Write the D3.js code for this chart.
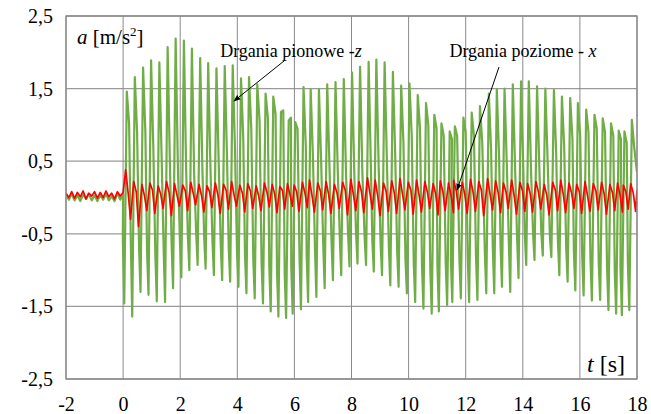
<!DOCTYPE html>
<html><head><meta charset="utf-8">
<script src="https://cdn.jsdelivr.net/npm/d3@7"></script>
<style>body{margin:0;background:#fff}</style>
</head><body><svg id="c" width="651" height="414"></svg>
<script>
// ---- data ----
const xTicks = [-2,0,2,4,6,8,10,12,14,16,18];
const yTicks = [-2.5,-1.5,-0.5,0.5,1.5,2.5];
// before excitation (t from -2 to 0, step 0.1)
const preT = [-2,-1.9,-1.8,-1.7,-1.6,-1.5,-1.4,-1.3,-1.2,-1.1,-1.0,-0.9,-0.8,-0.7,-0.6,-0.5,-0.4,-0.3,-0.2,-0.1,0.0];
const greenPre = [0.04,-0.03,0.05,-0.04,0.03,-0.05,0.04,-0.02,0.05,-0.04,0.03,-0.05,0.04,-0.03,0.05,-0.04,0.02,-0.05,0.06,-0.03,0.05];
const redPre = [0.06,0.00,0.08,-0.01,0.07,0.01,0.09,-0.02,0.06,0.02,0.08,-0.01,0.07,0.00,0.09,0.01,0.06,-0.02,0.08,0.02,0.07];
// vertical vibration - z: per cycle peak time, peak, trough, secondary bump
const peakT = [0.13,0.41,0.70,0.98,1.27,1.56,1.84,2.13,2.41,2.70,2.98,3.27,3.56,3.84,4.13,4.41,4.70,4.99,
  5.26,5.53,5.80,6.03,
  6.32,6.57,6.86,7.15,7.44,7.73,8.02,8.30,8.60,8.87,9.16,9.45,9.74,10.03,10.32,10.61,10.90,11.15,11.44,11.62,
  11.92,12.21,12.50,12.81,13.09,13.36,13.65,13.94,14.21,14.50,14.79,15.09,15.37,15.66,15.93,16.22,16.51,16.80,17.09,17.36,17.56,17.82];
const peakZ = [1.46,1.66,1.79,1.89,1.86,2.07,2.19,2.16,2.05,1.92,1.85,1.78,1.81,1.82,1.64,1.66,1.56,1.43,
  1.39,1.18,1.06,1.04,
  1.52,1.49,1.49,1.56,1.59,1.63,1.72,1.80,1.87,1.90,1.86,1.73,1.54,1.57,1.41,1.30,1.14,1.02,0.91,0.98,
  1.10,1.17,1.26,1.43,1.49,1.50,1.56,1.60,1.60,1.53,1.50,1.48,1.39,1.37,1.30,1.21,1.14,1.09,1.02,0.92,0.91,1.07];
const troughZ = [-1.46,-1.64,-1.30,-1.34,-1.43,-1.44,-1.25,-1.10,-1.00,-0.93,-0.98,-1.07,-1.14,-1.16,-1.23,-1.32,-1.39,-1.46,
  -1.57,-1.64,-1.66,-1.60,
  -1.54,-1.44,-1.37,-1.25,-1.14,-1.07,-0.95,-0.91,-0.93,-1.02,-1.07,-1.21,-1.23,-1.32,-1.44,-1.53,-1.60,-1.57,-1.48,-1.44,
  -1.39,-1.44,-1.41,-1.32,-1.32,-1.23,-1.30,-1.11,-0.93,-0.86,-0.80,-0.82,-1.07,-1.16,-1.28,-1.35,-1.42,-1.41,-1.55,-1.60,-1.62,-1.55];
const secondZ = [1.02,0.90,0.90,0.66,0.55,0.45,0.40,0.35,0.30,0.35,0.40,0.45,0.55,0.65,0.80,0.95,1.05,1.10,
  1.15,1.20,1.10,0.95,
  0.70,0.55,0.45,0.40,0.35,0.30,0.30,0.35,0.40,0.45,0.50,0.60,0.75,0.85,0.95,1.00,0.95,0.85,0.80,0.85,
  0.90,0.85,0.75,0.65,0.55,0.45,0.40,0.35,0.35,0.40,0.50,0.60,0.70,0.80,0.85,0.90,0.95,0.90,0.85,0.80,0.75,0.70];
// secondary dip just before each main trough
const dipZ = [-0.55,-0.60,-0.70,-0.75,-0.80,-0.70,-0.65,-0.60,-0.55,-0.50,-0.55,-0.60,-0.65,-0.70,-0.75,-0.80,-0.85,-0.90,
  -0.95,-1.00,-1.05,-0.95,
  -0.85,-0.80,-0.70,-0.65,-0.60,-0.55,-0.50,-0.50,-0.55,-0.60,-0.65,-0.70,-0.75,-0.85,-0.90,-0.95,-1.00,-0.95,-0.90,-0.85,
  -0.85,-0.80,-0.80,-0.75,-0.70,-0.65,-0.60,-0.55,-0.50,-0.50,-0.50,-0.55,-0.60,-0.70,-0.75,-0.80,-0.85,-0.90,-0.95,-1.00,-0.95,-0.90];
const endT = [18.0], endZ = [0.35], endX = [0.10];
// horizontal vibration - x: per cycle high, middle, low
const redHi = [0.38,0.22,0.18,0.20,0.16,0.22,0.19,0.17,0.21,0.18,0.16,0.20,0.18,0.22,0.17,0.19,0.16,0.20,0.18,0.15,0.19,0.17,
  0.21,0.24,0.20,0.22,0.18,0.21,0.25,0.22,0.27,0.24,0.20,0.23,0.26,0.21,0.24,0.22,0.19,0.23,0.20,0.24,
  0.21,0.25,0.22,0.26,0.23,0.20,0.24,0.21,0.19,0.22,0.18,0.21,0.24,0.20,0.18,0.22,0.19,0.21,0.18,0.20,0.17,0.19];
const redMid = [0.05,0.08,0.02,0.10,0.04,0.07,0.03,0.09,0.05,0.02,0.08,0.04,0.10,0.03,0.06,0.09,0.02,0.07,0.05,0.10,0.03,0.08,
  0.06,0.02,0.09,0.04,0.07,0.10,0.03,0.08,0.05,0.02,0.09,0.06,0.04,0.10,0.03,0.07,0.05,0.08,0.02,0.09,
  0.04,0.07,0.10,0.03,0.06,0.08,0.02,0.09,0.05,0.07,0.03,0.10,0.04,0.06,0.08,0.02,0.09,0.05,0.07,0.03,0.08,0.06];
const redLo = [-0.30,-0.40,-0.18,-0.22,-0.15,-0.25,-0.12,-0.18,-0.10,-0.20,-0.14,-0.22,-0.16,-0.12,-0.20,-0.15,-0.18,-0.13,-0.21,-0.16,-0.12,-0.19,
  -0.14,-0.20,-0.17,-0.22,-0.15,-0.24,-0.18,-0.21,-0.16,-0.25,-0.19,-0.22,-0.17,-0.23,-0.20,-0.15,-0.24,-0.18,-0.21,-0.16,
  -0.22,-0.19,-0.25,-0.17,-0.21,-0.15,-0.23,-0.19,-0.20,-0.16,-0.24,-0.18,-0.21,-0.15,-0.22,-0.19,-0.17,-0.23,-0.18,-0.20,-0.16,-0.19];

// ---- layout ----
const FONT = '"Liberation Serif"';
const W = 651, H = 414;
const m = {l:66, t:16, r:14, b:35};
const svg = d3.select("#c");
const x = d3.scaleLinear().domain([-2,18]).range([m.l, W-m.r]);
const y = d3.scaleLinear().domain([-2.5,2.5]).range([H-m.b, m.t]);
const fmt = v => d3.format(".1f")(v).replace(".", ",").replace("\u2212","-");

// grid
const grid = svg.append("g");
grid.selectAll("line.h").data(yTicks).join("line")
  .attr("x1", x(-2)).attr("x2", x(18)).attr("y1", d=>y(d)).attr("y2", d=>y(d))
  .attr("stroke", "#9a9a9a").attr("stroke-width", 1.3);
grid.selectAll("line.v").data(xTicks).join("line")
  .attr("y1", y(-2.5)).attr("y2", y(2.5)).attr("x1", d=>x(d)).attr("x2", d=>x(d))
  .attr("stroke", "#8a8a8a").attr("stroke-width", 1);

// axes (labels only)
const xa = svg.append("g").attr("transform", `translate(0,${y(-2.5)})`)
  .call(d3.axisBottom(x).tickValues(xTicks).tickSize(0).tickPadding(18).tickFormat(d=>String(d)));
xa.select(".domain").remove();
xa.attr("font-family", FONT).attr("font-size", 20);
xa.selectAll("text").attr("fill", "#000").style("font-family", FONT).style("font-size", "20px");
const ya = svg.append("g").attr("transform", `translate(${x(-2)},0)`)
  .call(d3.axisLeft(y).tickValues(yTicks).tickSize(0).tickPadding(13).tickFormat(fmt));
ya.select(".domain").remove();
ya.attr("font-family", FONT).attr("font-size", 20);
ya.selectAll("text").attr("fill", "#000").style("font-family", FONT).style("font-size", "20px");

// build series from data
const green = preT.map((t,i)=>[t, greenPre[i]]);
peakT.forEach((t,i)=>{
  green.push([t-0.14, dipZ[i]]);
  green.push([t-0.09, troughZ[i]]);
  green.push([t, peakZ[i]]);
  green.push([t+0.08, secondZ[i]]);
});
endT.forEach((t,i)=>green.push([t, endZ[i]]));
const red = preT.map((t,i)=>[t, redPre[i]]);
peakT.forEach((t,i)=>{
  red.push([t-0.04, redHi[i]]);
  red.push([t+0.05, redMid[i]]);
  red.push([t+0.13, redLo[i]]);
});
endT.forEach((t,i)=>red.push([t, endX[i]]));

svg.append("clipPath").attr("id","clip").append("rect")
  .attr("x", x(-2)).attr("y", y(2.5)).attr("width", x(18)-x(-2)).attr("height", y(-2.5)-y(2.5));
const line = d3.line().x(d=>x(d[0])).y(d=>y(d[1]));
const plot = svg.append("g").attr("clip-path","url(#clip)");
plot.append("path").datum(green).attr("d", line).attr("fill","none")
  .attr("stroke","#70AD47").attr("stroke-width",2.2).attr("stroke-linejoin","round");
plot.append("path").datum(red).attr("d", line).attr("fill","none")
  .attr("stroke","#FF0000").attr("stroke-width",1.7).attr("stroke-linejoin","round");

// border
svg.append("rect").attr("x", x(-2)).attr("y", y(2.5)).attr("width", x(18)-x(-2)).attr("height", y(-2.5)-y(2.5))
  .attr("fill","none").attr("stroke","#8a8a8a").attr("stroke-width",1.3);

// titles / annotations
const ta = svg.append("text").attr("x", 77).attr("y", 44).style("font-family", FONT).style("font-size","21px");
ta.append("tspan").attr("font-style","italic").text("a");
ta.append("tspan").text(" [m/s");
ta.append("tspan").style("font-size","13px").attr("dy", -8).text("2");
ta.append("tspan").attr("dy", 8).text("]");

const tt = svg.append("text").attr("x", 587).attr("y", 372).style("font-family", FONT).style("font-size","24px");
tt.append("tspan").attr("font-style","italic").text("t");
tt.append("tspan").text(" [s]");

const l1 = svg.append("text").attr("x", 291).attr("y", 57).attr("text-anchor","middle").style("font-family", FONT).style("font-size","18px");
l1.append("tspan").text("Drgania pionowe -");
l1.append("tspan").attr("font-style","italic").text("z");
const l2 = svg.append("text").attr("x", 523).attr("y", 57).attr("text-anchor","middle").style("font-family", FONT).style("font-size","18px");
l2.append("tspan").text("Drgania poziome - ");
l2.append("tspan").attr("font-style","italic").text("x");

// arrows
const defs = svg.append("defs");
defs.append("marker").attr("id","ah").attr("viewBox","0 0 10 10").attr("refX",9).attr("refY",5)
  .attr("markerWidth",7).attr("markerHeight",7).attr("orient","auto")
  .append("path").attr("d","M0,1L10,5L0,9Z").attr("fill","#000");
svg.append("line").attr("x1",284).attr("y1",61).attr("x2",234).attr("y2",101)
  .attr("stroke","#000").attr("stroke-width",1).attr("marker-end","url(#ah)");
svg.append("line").attr("x1",499).attr("y1",67).attr("x2",457).attr("y2",190)
  .attr("stroke","#000").attr("stroke-width",1).attr("marker-end","url(#ah)");
</script></body></html>
